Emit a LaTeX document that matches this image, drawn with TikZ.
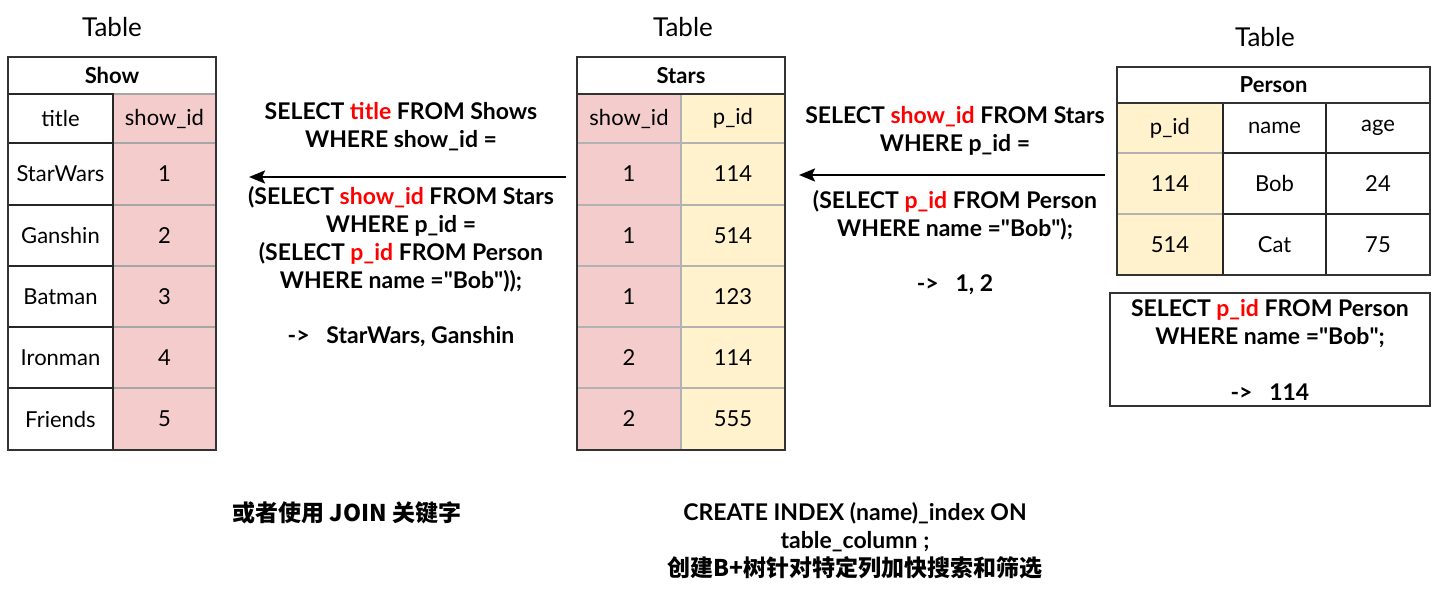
\documentclass[tikz,border=0pt]{standalone}
\usepackage{fontspec}
\setmainfont{Lato}
\newfontfamily\qf{Lato}
\newfontfamily\cjk{Noto Sans CJK SC}
\usetikzlibrary{arrows.meta}
\definecolor{pinkc}{HTML}{F4CCCC}
\definecolor{yelc}{HTML}{FFF2CC}
\definecolor{redc}{HTML}{FF0000}
\newcommand\rd[1]{\textcolor{redc}{#1}}
\newcommand\dq{{\qf"}}
\newcommand\tcell[8]{%
  \path[draw=#7,line width=0.6pt,fill=#6] (#2,#3) rectangle (#4,#5);
  \node[celltext] (#1) at ({(#2+#4)/2},{(#3+#5)/2}) {#8};}
\tikzset{
  celltext/.style={font=\fontsize{11}{12}\selectfont,inner sep=0pt},
  headtext/.style={font=\bfseries\fontsize{11}{12}\selectfont,inner sep=0pt},
  tabletitle/.style={font=\fontsize{13}{14}\selectfont,inner sep=0pt},
  query/.style={font=\bfseries\fontsize{11.5}{14}\selectfont,align=center,inner sep=0pt},
  frame/.style={draw=black!80,line width=0.8pt},
  arr/.style={line width=1.1pt,-{Stealth[length=8pt,width=6.5pt,inset=1.5pt]}},
}
\begin{document}
\begin{tikzpicture}[x=0.5pt,y=-0.5pt]
\useasboundingbox (0,0) rectangle (1442,589);
% ---------- Show table
\node[tabletitle] (t1) at (112,27) {Table};
\tcell{sh}{8}{57}{216}{94}{white}{black!80}{}
\node[headtext] at (sh) {Show};
\foreach \ya/\yb/\v [count=\i] in {94/143/show\_id,143/205/1,205/266/2,266/327/3,327/388/4,388/450/5}
  {\tcell{s\i b}{113}{\ya}{216}{\yb}{pinkc}{black!35}{\v}}
\foreach \ya/\yb/\t [count=\i] in {94/143/title,143/205/StarWars,205/266/Ganshin,266/327/Batman,327/388/Ironman,388/450/Friends}
  {\tcell{s\i a}{8}{\ya}{113}{\yb}{white}{black!85}{\t}}
\draw[frame] (8,57) rectangle (216,450);
% ---------- Stars table
\node[tabletitle] (t2) at (683,27) {Table};
\tcell{st}{577}{57}{785}{94}{white}{black!80}{}
\node[headtext] at (st) {Stars};
\foreach \ya/\yb/\u/\v [count=\i] in {94/143/show\_id/p\_id,143/205/1/114,205/266/1/514,266/327/1/123,327/388/2/114,388/450/2/555}
  {\tcell{r\i a}{577}{\ya}{681}{\yb}{pinkc}{black!30}{\u}
   \tcell{r\i b}{681}{\ya}{785}{\yb}{yelc}{black!30}{\v}}
\draw[frame] (577,57) rectangle (785,450);
\draw[black!80,line width=0.6pt] (577,94) -- (785,94);
% ---------- Person table
\node[tabletitle] (t3) at (1265,37) {Table};
\tcell{pe}{1117}{67}{1430}{103}{white}{black!80}{}
\node[headtext] at (pe) {Person};
\foreach \ya/\yb/\u [count=\i] in {103/153/p\_id,153/214/114,214/275/514}
  {\tcell{p\i a}{1117}{\ya}{1223}{\yb}{yelc}{black!30}{\u}}
\foreach \ya/\yb/\v/\w [count=\i] in {103/153/name/age,153/214/Bob/24,214/275/Cat/75}
  {\tcell{p\i b}{1223}{\ya}{1326}{\yb}{white}{black!85}{\v}
   \tcell{p\i c}{1326}{\ya}{1430}{\yb}{white}{black!85}{\w}}
\draw[frame] (1117,67) rectangle (1430,275);
\draw[black!80,line width=0.6pt] (1117,103) -- (1430,103);
% ---------- left query
\node[query] (q1a) at (401,127) {SELECT \rd{title} FROM Shows\\WHERE show\_id =};
\node[query] (q1b) at (401,239) {(SELECT \rd{show\_id} FROM Stars\\WHERE p\_id =\\(SELECT \rd{p\_id} FROM Person\\WHERE name =\dq Bob\dq));};
\node[query] (q1c) at (401,337) {->\ \ \ StarWars, Ganshin};
\coordinate (a1s) at (566,177);
\coordinate (a1e) at (249,177);
\draw[arr] (a1s) -- (a1e);
% ---------- right query
\node[query] (q2a) at (955,131) {SELECT \rd{show\_id} FROM Stars\\WHERE p\_id =};
\node[query] (q2b) at (955,215) {(SELECT \rd{p\_id} FROM Person\\WHERE name =\dq Bob\dq);};
\node[query] (q2c) at (955,285) {->\ \ \ 1, 2};
\coordinate (a2s) at (1105,175);
\coordinate (a2e) at (799,175);
\draw[arr] (a2s) -- (a2e);
% ---------- person query box
\node[query,draw=black!80,line width=0.7pt,minimum width=160pt,minimum height=56.5pt] (q3) at (1270,349.5)
  {SELECT \rd{p\_id} FROM Person\\WHERE name =\dq Bob\dq;\\[14pt]->\ \ \ 114};
% ---------- bottom notes
\node[query] (n1) at (347,513) {\cjk\bfseries 或者使用 JOIN 关键字};
\node[query] (n2) at (855,541) {CREATE INDEX (name)\_index ON\\table\_column ;\\{\cjk\bfseries 创建B+树针对特定列加快搜索和筛选}};
\end{tikzpicture}
\end{document}
